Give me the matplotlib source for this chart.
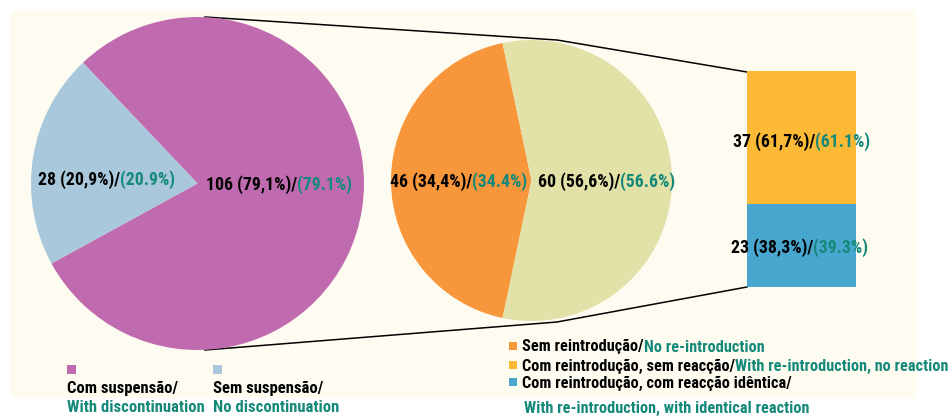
import matplotlib.pyplot as plt
from matplotlib.patches import Rectangle
from matplotlib import font_manager
from matplotlib.font_manager import FontProperties
from matplotlib.textpath import TextPath

# ======================
# Data
# ======================
# left pie: discontinuation
susp_labels_pt = ["Com suspensão/", "Sem suspensão/"]
susp_labels_en = ["With discontinuation", "No discontinuation"]
susp_counts = [106, 28]
susp_pct_pt = ["79,1%", "20,9%"]
susp_pct_en = ["79.1%", "20.9%"]

# middle pie: re-introduction
reint_counts = [46, 60]
reint_pct_pt = ["34,4%", "56,6%"]
reint_pct_en = ["34.4%", "56.6%"]

# bar: reaction after re-introduction
react_counts = [37, 23]
react_pct_pt = ["61,7%", "38,3%"]
react_pct_en = ["61.1%", "39.3%"]

legend_pt = ["Sem reintrodução/", "Com reintrodução, sem reacção/",
             "Com reintrodução, com reacção idêntica/"]
legend_en = ["No re-introduction", "With re-introduction, no reaction",
             "With re-introduction, with identical reaction"]

# ======================
# Style
# ======================
W, H = 952, 418
PURPLE = "#C06BB0"
LBLUE = "#A9C8DB"
ORANGE = "#F7963B"
PALE = "#E1E1A8"
YELLOW = "#FBB936"
BLUE = "#47A7CF"
TEAL = "#14897A"
CREAM = "#FEFCF0"


# pick a narrow bold face if one is installed, else Liberation Sans
def pick_font():
    best = None
    for f in font_manager.fontManager.ttflist:
        name = f.name.lower()
        narrow = ("narrow" in name or "condensed" in name
                  or f.stretch in ("condensed", "semi-condensed", "extra-condensed", 500 - 125))
        bold = f.weight in ("bold", 700, "semibold", 600)
        if narrow and bold and not f.style == "italic":
            if best is None or "liberation" in name or "roboto" in name:
                best = f
    if best is not None:
        return FontProperties(fname=best.fname)
    return FontProperties(family=["Liberation Sans", "DejaVu Sans"], weight="bold")


FP = pick_font()


def fit_size(text, target_px, size):
    tp = TextPath((0, 0), text, size=size, prop=FP)
    w = tp.get_extents().width * 100 / 72
    return size * min(1.0, target_px / w)


LABEL_SIZE = fit_size("28 (20,9%)/", 81, 13.5)
LEG_SIZE = fit_size("Com suspensão/", 110, 12)
LEG2_SIZE = fit_size("With re-introduction, with identical reaction", 282, 12)


def box(x, y, w, h):
    # pixel box (top-left origin) -> figure fraction
    return [x / W, 1 - (y + h) / H, w / W, h / H]


def fx(x):
    return x / W


def fy(y):
    return 1 - y / H


def txt(x, y, s, color, size, ha="left"):
    p = FP.copy()
    p.set_size(size)
    return fig.text(fx(x), fy(y), s, ha=ha, va="center", color=color,
                    fontproperties=p)


fig = plt.figure(figsize=(W / 100, H / 100), dpi=100)
fig.patch.set_facecolor("white")

bg = fig.add_axes([0, 0, 1, 1])
bg.set_xlim(0, W)
bg.set_ylim(H, 0)
bg.axis("off")
bg.add_patch(Rectangle((10, 10), 907, 388, color=CREAM, lw=0))

# connector lines
bg.plot([205, 557, 747], [17, 40, 72], color="black", lw=1.1)
bg.plot([205, 557, 747], [350, 322, 287], color="black", lw=1.1)

# left pie
ax1 = fig.add_axes(box(31, 17, 333, 333))
ax1.pie(susp_counts, colors=[PURPLE, LBLUE], startangle=208.7,
        wedgeprops=dict(linewidth=0))
ax1.set_xlim(-1, 1)
ax1.set_ylim(-1, 1)

# middle pie
ax2 = fig.add_axes(box(391, 40, 281, 281))
ax2.pie(reint_counts, colors=[ORANGE, PALE], startangle=101.9,
        wedgeprops=dict(linewidth=0))
ax2.set_xlim(-1, 1)
ax2.set_ylim(-1, 1)

# stacked bar
ax3 = fig.add_axes(box(747, 71, 109, 216))
ax3.bar([0], [react_counts[1]], width=1, color=BLUE)
ax3.bar([0], [react_counts[0]], width=1, bottom=[react_counts[1]], color=YELLOW)
ax3.set_xlim(-0.5, 0.5)
ax3.set_ylim(0, sum(react_counts))
ax3.axis("off")


def split_label(x, y, count, pt, en):
    txt(x, y, f"{count} ({pt})/", "black", LABEL_SIZE, ha="right")
    txt(x, y, f"({en})", TEAL, LABEL_SIZE, ha="left")


split_label(297, 185, susp_counts[0], susp_pct_pt[0], susp_pct_en[0])
split_label(120, 180, susp_counts[1], susp_pct_pt[1], susp_pct_en[1])
split_label(472, 182, reint_counts[0], reint_pct_pt[0], reint_pct_en[0])
split_label(620, 182, reint_counts[1], reint_pct_pt[1], reint_pct_en[1])
split_label(815, 142, react_counts[0], react_pct_pt[0], react_pct_en[0])
split_label(813, 248, react_counts[1], react_pct_pt[1], react_pct_en[1])

# left legend
for x, c, pt, en in zip([67, 213], [PURPLE, LBLUE], susp_labels_pt, susp_labels_en):
    bg.add_patch(Rectangle((x, 365), 9, 9, color=c, lw=0))
    txt(x, 388, pt, "black", LEG_SIZE)
    txt(x, 407, en, TEAL, LEG_SIZE)

# right legend
rows_y = [347, 366, 383]
for i, (c, y) in enumerate(zip([ORANGE, YELLOW, BLUE], rows_y)):
    bg.add_patch(Rectangle((509, y - 5), 8, 8, color=c, lw=0))
    t = txt(522, y, legend_pt[i], "black", LEG2_SIZE)
    if i < 2:
        p = FP.copy()
        p.set_size(LEG2_SIZE)
        fig.add_artist(plt.Annotation(legend_en[i], xy=(1, 0.5), xycoords=t,
                                      ha="left", va="center", color=TEAL,
                                      fontproperties=p))
    else:
        txt(524, 408, legend_en[i], TEAL, LEG2_SIZE)

fig.savefig("out.png", dpi=100, facecolor="white")
